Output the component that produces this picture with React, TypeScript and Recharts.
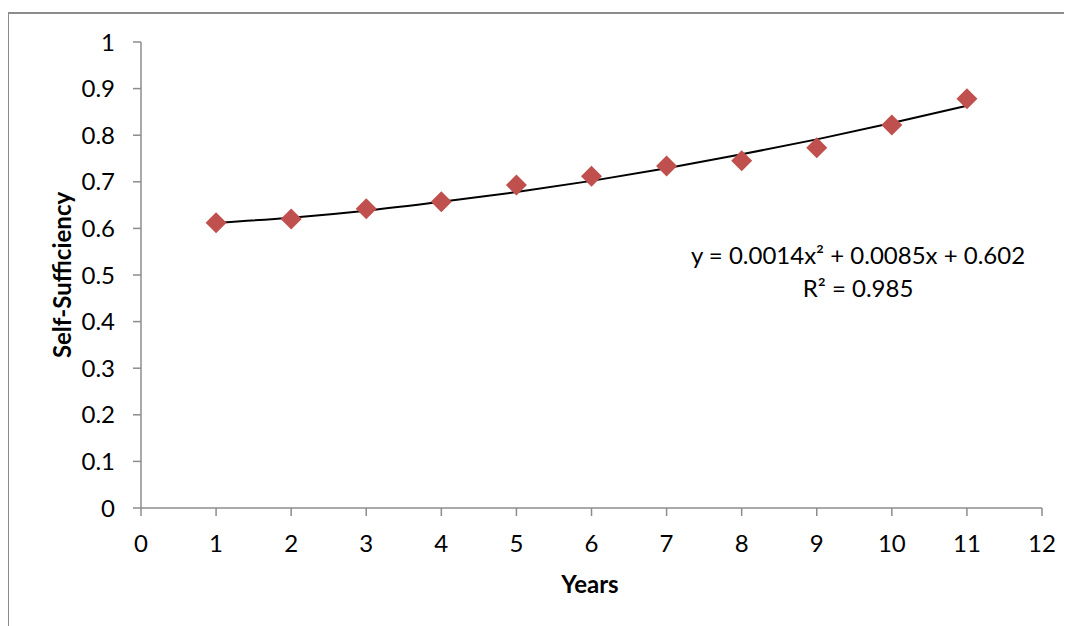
// Self-sufficiency over years, scatter with quadratic trendline (Excel style).
import { ScatterChart, Scatter, XAxis, YAxis } from 'recharts'

const years = [1, 2, 3, 4, 5, 6, 7, 8, 9, 10, 11]
const selfSufficiency = [0.612, 0.62, 0.642, 0.657, 0.693, 0.712, 0.734, 0.745, 0.773, 0.822, 0.878]
// trendline at each year
const trendValues = [0.612, 0.623, 0.638, 0.657, 0.678, 0.702, 0.729, 0.759, 0.791, 0.826, 0.863]

const xTicks = [0, 1, 2, 3, 4, 5, 6, 7, 8, 9, 10, 11, 12]
const yTicks = [0, 0.1, 0.2, 0.3, 0.4, 0.5, 0.6, 0.7, 0.8, 0.9, 1]

const equationText = 'y = 0.0014x² + 0.0085x + 0.602'
const rSquaredText = 'R² = 0.985'

const points = years.map((x, i) => ({ x, y: selfSufficiency[i] }))
const trend = years.map((x, i) => ({ x, y: trendValues[i] }))

const FONT = 'Lato, "Open Sans", sans-serif'
const AXIS = '#8c8c8c'
const FS = 24

function Diamond(props: any) {
  const { cx, cy } = props
  const r = 10.5
  return (
    <polygon
      points={`${cx},${cy - r} ${cx + r},${cy} ${cx},${cy + r} ${cx - r},${cy}`}
      fill="#C0504D"
    />
  )
}

const tick = { fontSize: FS, fill: '#000', fontFamily: FONT }

export default function App() {
  return (
    <div style={{ position: 'relative', width: 1064, height: 618, overflow: 'hidden', fontFamily: FONT }}>
      <div style={{
        position: 'absolute', left: -1, top: 4, width: 1200, height: 1000,
        borderTop: `2px solid ${AXIS}`, borderLeft: `2px solid ${AXIS}`,
      }} />
      <ScatterChart width={1064} height={618} margin={{ top: 34, right: 30, bottom: 88, left: 0 }}>
        <XAxis
          type="number" dataKey="x" domain={[0, 12]} ticks={xTicks} height={30}
          tick={tick} tickSize={8} tickMargin={19}
          axisLine={{ stroke: AXIS, strokeWidth: 1.5 }} tickLine={{ stroke: AXIS, strokeWidth: 1.5 }}
        />
        <YAxis
          type="number" dataKey="y" domain={[0, 1]} ticks={yTicks} width={133}
          tick={tick} tickSize={8} tickMargin={18}
          tickFormatter={v => String(Math.round(v * 10) / 10)}
          axisLine={{ stroke: AXIS, strokeWidth: 1.5 }} tickLine={{ stroke: AXIS, strokeWidth: 1.5 }}
        />
        <Scatter
          data={trend} line={{ stroke: '#000', strokeWidth: 2 }} lineJointType="monotoneX"
          shape={() => <g />} isAnimationActive={false}
        />
        <Scatter data={points} shape={<Diamond />} isAnimationActive={false} />
      </ScatterChart>
      <div style={{
        position: 'absolute', left: 53, top: 267, transform: 'translate(-50%, -50%) rotate(-90deg)',
        fontSize: FS, fontWeight: 700, whiteSpace: 'nowrap',
      }}>Self-Sufficiency</div>
      <div style={{
        position: 'absolute', left: 582, top: 575, transform: 'translate(-50%, -50%)',
        fontSize: FS, fontWeight: 700,
      }}>Years</div>
      <div style={{
        position: 'absolute', left: 850, top: 246, transform: 'translate(-50%, -50%)',
        fontSize: FS, whiteSpace: 'nowrap',
      }}>{equationText}</div>
      <div style={{
        position: 'absolute', left: 850, top: 279, transform: 'translate(-50%, -50%)',
        fontSize: FS, whiteSpace: 'nowrap',
      }}>{rSquaredText}</div>
    </div>
  )
}
